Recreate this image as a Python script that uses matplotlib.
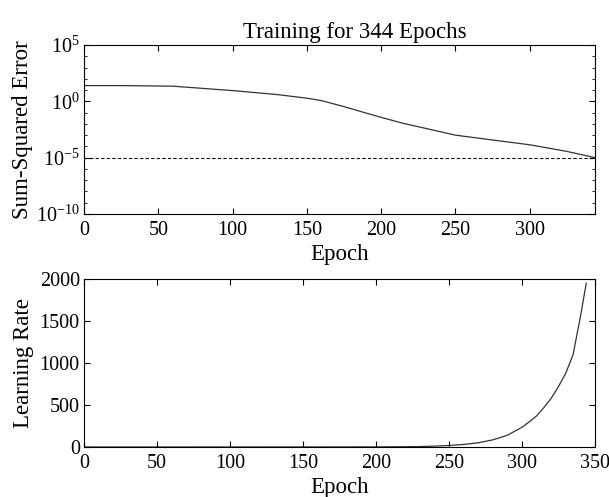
import numpy as np
import matplotlib.pyplot as plt

plt.rcParams['font.family'] = ['Liberation Serif', 'DejaVu Serif']
plt.rcParams['mathtext.fontset'] = 'custom'
plt.rcParams['mathtext.rm'] = 'Liberation Serif'

# sum-squared error
sse_epoch = [0, 25, 60, 100, 130, 150, 160, 175, 190, 200, 215, 225, 250, 275, 300, 325, 344]
sse_value = [25, 25, 22, 9, 4, 1.9, 1.15, 0.34, 0.09, 0.038, 0.011, 0.0056,
             0.001, 0.00037, 0.00014, 0.000036, 0.00001]
goal = 1e-5

# learning rate
lr_epoch = [0, 100, 200, 230, 240, 250, 260, 270, 280, 290, 300, 305, 310, 315,
            320, 325, 330, 335, 340, 344]
lr_value = [0.1, 0.3, 1, 5, 10, 18, 30, 50, 85, 140, 235, 300, 370, 470,
            580, 720, 880, 1100, 1550, 1950]

fig = plt.figure(figsize=(6.09, 4.97), dpi=100)
ax1 = fig.add_axes([84/609, 1-214/497, 511/609, 169/497])
ax2 = fig.add_axes([84/609, 1-447/497, 511/609, 168/497])

ax1.semilogy(sse_epoch, sse_value, color='#333333', lw=0.9)
ax1.axhline(goal, color='black', ls=(0, (3, 2)), lw=0.8)
ax1.set_xlim(0, 344)
ax1.set_ylim(1e-10, 1e5)
ax1.set_yticks([1e-10, 1e-5, 1e0, 1e5])
ax1.set_yticklabels([r'$\mathregular{10^{-10}}$', r'$\mathregular{10^{-5}}$',
                     r'$\mathregular{10^{0}}$', r'$\mathregular{10^{5}}$'])
ax1.set_xticks(np.arange(0, 301, 50))
ax1.yaxis.set_minor_locator(plt.FixedLocator([10.0**k for k in range(-10, 6)]))
ax1.yaxis.set_minor_formatter(plt.NullFormatter())
ax1.set_title('Training for 344 Epochs', fontsize=16.5, pad=5, x=0.529)
ax1.set_xlabel('Epoch', fontsize=16.5, labelpad=3)
ax1.set_ylabel('Sum-Squared Error', fontsize=16.5, labelpad=2)

ax2.plot(lr_epoch, lr_value, color='#333333', lw=0.9)
ax2.set_xlim(0, 350)
ax2.set_ylim(0, 2000)
ax2.set_xticks(np.arange(0, 351, 50))
ax2.set_yticks(np.arange(0, 2001, 500))
ax2.set_xlabel('Epoch', fontsize=16.5, labelpad=3)
ax2.set_ylabel('Learning Rate', fontsize=16.5, labelpad=4)

for ax in (ax1, ax2):
    ax.tick_params(which='both', direction='in', top=True, right=True, labelsize=14.5)
    ax.tick_params(axis='x', pad=5)
    ax.tick_params(axis='y', pad=3)
    ax.tick_params(which='major', length=4)
    ax.tick_params(which='minor', length=2)
    for s in ax.spines.values():
        s.set_linewidth(0.8)

fig.savefig('out.png', dpi=100)
